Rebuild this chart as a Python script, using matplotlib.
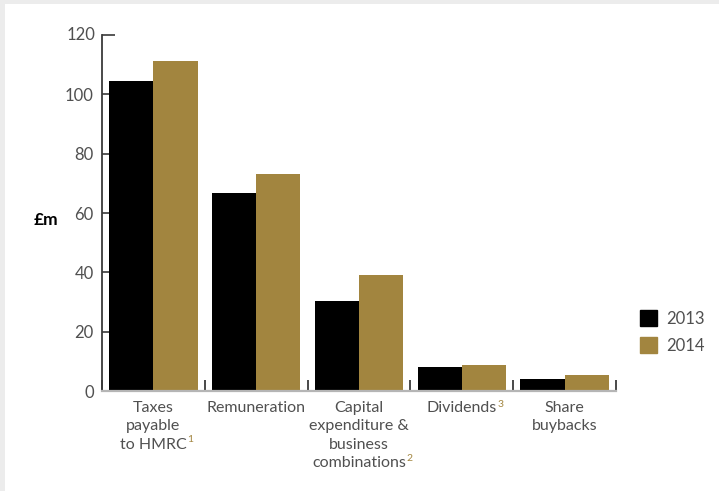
import numpy as np
import matplotlib
matplotlib.use("Agg")
import matplotlib.pyplot as plt
from matplotlib.patches import Rectangle

categories = ["Taxes\npayable\nto HMRC", "Remuneration",
              "Capital\nexpenditure &\nbusiness\ncombinations",
              "Dividends", "Share\nbuybacks"]
notes = ["1", "", "2", "3", ""]
years = ["2013", "2014"]
values_2013 = [104.5, 66.8, 30.2, 8.1, 4.0]
values_2014 = [111.2, 73.2, 39.0, 8.7, 5.4]
yticks = [0, 20, 40, 60, 80, 100, 120]

BLACK = "#000000"
GOLD = "#a2853f"
GREY_TXT = "#505050"

plt.rcParams["font.family"] = ["Lato", "DejaVu Sans"]

fig = plt.figure(figsize=(7.19, 4.91), dpi=100, facecolor="white")
# light grey frame along the top and left edges
fig.patches.append(Rectangle((0, 1 - 4 / 491), 1, 4 / 491, transform=fig.transFigure,
                             facecolor="#ececec", edgecolor="none", zorder=-10))
fig.patches.append(Rectangle((0, 0), 5 / 719, 1, transform=fig.transFigure,
                             facecolor="#ececec", edgecolor="none", zorder=-10))
ax = fig.add_axes([102 / 719, 1 - 391 / 491, 514 / 719, 356 / 491])
ax.set_facecolor("none")

x = np.arange(len(categories))
w = 0.43
ax.bar(x - w / 2, values_2013, w, color=BLACK, label=years[0], zorder=2)
ax.bar(x + w / 2, values_2014, w, color=GOLD, label=years[1], zorder=2)

ax.set_xlim(-0.5, len(categories) - 0.5)
ax.set_ylim(0, 120)

for s in ["top", "right"]:
    ax.spines[s].set_visible(False)
ax.spines["left"].set_color("#3a3a3a")
ax.spines["left"].set_linewidth(1.3)
ax.spines["bottom"].set_color("#b5b5b5")
ax.spines["bottom"].set_linewidth(1.6)

ax.set_yticks(yticks[:-1])
ax.set_yticklabels([str(v) for v in yticks[:-1]])
ax.tick_params(axis="y", direction="in", length=8, width=1.2, color="#3a3a3a",
               labelsize=12, labelcolor=GREY_TXT, pad=6)
# top value: label plus a tick pointing inward at the top of the axis
ax.text(-0.012, 1.0, "120", transform=ax.transAxes, ha="right", va="center",
        fontsize=12, color=GREY_TXT)
ax.plot([0, 0.025], [1, 1], transform=ax.transAxes, color="#3a3a3a", lw=1.2,
        clip_on=False, solid_capstyle="butt")

ax.set_xticks(np.arange(len(categories) + 1) - 0.5)
ax.set_xticklabels([])
ax.tick_params(axis="x", which="major", direction="in", length=8, width=1.3,
               color="#3a3a3a")
ax.set_xticks(x, minor=True)
ax.set_xticklabels(categories, minor=True, linespacing=1.4)
ax.tick_params(axis="x", which="minor", length=0, pad=7, labelsize=11.5,
               labelcolor=GREY_TXT)

ax.set_ylabel("£m", rotation=0, fontsize=12.5, fontweight="bold", color="black",
              ha="right", va="center")
ax.yaxis.set_label_coords(-0.086, 0.48)

handles = [Rectangle((0, 0), 1, 1, color=BLACK), Rectangle((0, 0), 1, 1, color=GOLD)]
ax.legend(handles, years, loc="center left", bbox_to_anchor=(640 / 719, 1 - 332 / 491),
          bbox_transform=fig.transFigure, frameon=False, fontsize=12,
          labelcolor=GREY_TXT, handlelength=1.0, handleheight=1.1,
          handletextpad=0.55, labelspacing=0.6, borderpad=0, borderaxespad=0)

# gold footnote markers after the last line of the labels
fig.canvas.draw()
renderer = fig.canvas.get_renderer()
for lab, note in zip(ax.get_xticklabels(minor=True), notes):
    if not note:
        continue
    bb = lab.get_window_extent(renderer)
    lines = lab.get_text().split("\n")
    tmp = fig.text(0, 0, lines[-1], fontproperties=lab.get_fontproperties())
    lw = tmp.get_window_extent(renderer).width
    tmp.remove()
    cx = (bb.x0 + bb.x1) / 2
    line_h = bb.height / len(lines)
    px = cx + lw / 2 + 0.5
    py = bb.y0 + line_h * 0.42
    fx, fy = fig.transFigure.inverted().transform((px, py))
    fig.text(fx, fy, note, fontsize=7.5, color=GOLD, ha="left", va="bottom")

fig.savefig("out.png", dpi=100, facecolor=fig.get_facecolor())
